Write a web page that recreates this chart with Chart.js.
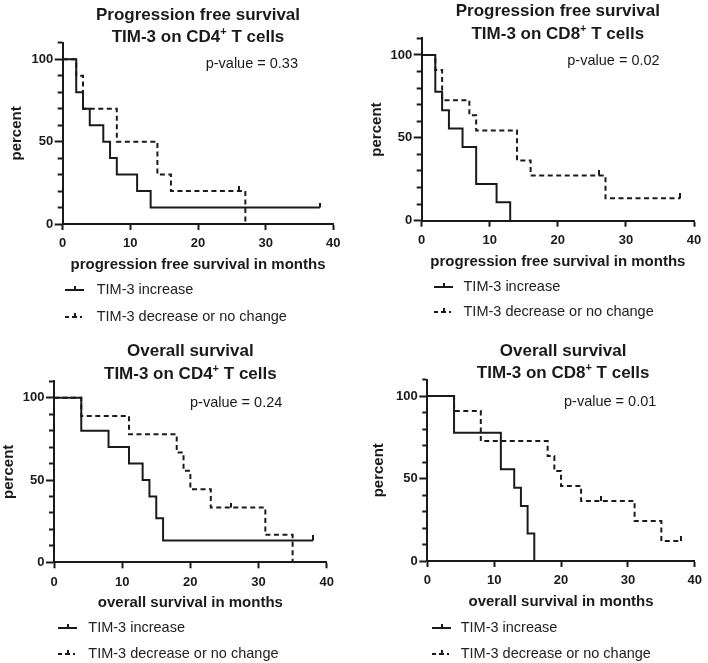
<!DOCTYPE html>
<html>
<head>
<meta charset="utf-8">
<script src="https://cdn.jsdelivr.net/npm/chart.js@4.4.1/dist/chart.umd.min.js"></script>
<style>
  html, body { margin: 0; padding: 0; background: #ffffff; }
  #page { position: relative; width: 708px; height: 663px; overflow: hidden; background: #fff;
          font-family: 'Liberation Sans', Arial, sans-serif; color: #1a1a1a; }
  canvas { position: absolute; }
  .title { position: absolute; text-align: center; font-weight: bold; font-size: 17px; line-height: 22.5px; white-space: nowrap; }
  .sup { font-size: 11px; position: relative; top: -7px; }
  .pval { position: absolute; font-size: 14.5px; line-height: 18px; white-space: nowrap; }
  .leg { position: absolute; font-size: 14.5px; line-height: 18px; white-space: nowrap; color: #222; }
  .sym { position: absolute; }
</style>
</head>
<body>
<div id="page"></div>
<script>
// ---------------- DATA ----------------
const seriesLabels = ['TIM-3 increase', 'TIM-3 decrease or no change'];
const titleLine1 = ['Progression free survival', 'Progression free survival', 'Overall survival', 'Overall survival'];
const titleCells = ['CD4', 'CD8', 'CD4', 'CD8'];
const pValues = ['0.33', '0.02', '0.24', '0.01'];
const xAxisTitles = ['progression free survival in months', 'progression free survival in months',
                     'overall survival in months', 'overall survival in months'];
const yAxisTitle = 'percent';
const yTickLabels = [0, 50, 100];
const xTickValues = [0, 10, 20, 30, 40];

// PFS, TIM-3 on CD4+ T cells
const pfsCd4IncMonths = [0, 2, 3, 4, 6, 7, 8, 11, 13, 38];
const pfsCd4IncPct    = [100, 80, 70, 60, 50, 40, 30, 20, 10, 10];
const pfsCd4DecMonths = [0, 2, 3, 8, 14, 16, 27];
const pfsCd4DecPct    = [100, 90, 70, 50, 30, 20, 0];
const pfsCd4IncCensMonths = [38];
const pfsCd4IncCensPct    = [10];
const pfsCd4DecCensMonths = [26];
const pfsCd4DecCensPct    = [20];

// PFS, TIM-3 on CD8+ T cells
const pfsCd8IncMonths = [0, 2, 3, 4, 6, 8, 11, 13];
const pfsCd8IncPct    = [100, 77.8, 66.7, 55.6, 44.4, 22.2, 11.1, 0];
const pfsCd8DecMonths = [0, 2, 3, 7, 8, 14, 16, 27, 38];
const pfsCd8DecPct    = [100, 90.9, 72.7, 63.6, 54.5, 36.4, 27.3, 13.6, 13.6];
const pfsCd8IncCensMonths = [];
const pfsCd8IncCensPct    = [];
const pfsCd8DecCensMonths = [26, 38];
const pfsCd8DecCensPct    = [27.3, 13.6];

// OS, TIM-3 on CD4+ T cells
const osCd4IncMonths = [0, 4, 8, 11, 13, 14, 15, 16, 38];
const osCd4IncPct    = [100, 80, 70, 60, 50, 40, 26.7, 13.3, 13.3];
const osCd4DecMonths = [0, 4, 11, 18, 19, 20, 23, 31, 35];
const osCd4DecPct    = [100, 88.9, 77.8, 66.7, 55.6, 44.4, 33.3, 16.7, 0];
const osCd4IncCensMonths = [38];
const osCd4IncCensPct    = [13.3];
const osCd4DecCensMonths = [26];
const osCd4DecCensPct    = [33.3];

// OS, TIM-3 on CD8+ T cells
const osCd8IncMonths = [0, 4, 11, 13, 14, 15, 16];
const osCd8IncPct    = [100, 77.8, 55.6, 44.4, 33.3, 16.7, 0];
const osCd8DecMonths = [0, 4, 8, 18, 19, 20, 23, 31, 35, 38];
const osCd8DecPct    = [100, 90.9, 72.7, 63.6, 54.5, 45.5, 36.4, 24.2, 12.1, 12.1];
const osCd8IncCensMonths = [];
const osCd8IncCensPct    = [];
const osCd8DecCensMonths = [26, 38];
const osCd8DecCensPct    = [36.4, 12.1];

// ---------------- LAYOUT (all page pixels) ----------------
const INK = '#1a1a1a';
const FONT = "'Liberation Sans', Arial, sans-serif";
Chart.defaults.font.family = FONT;
Chart.defaults.color = INK;

const panels = [
  { cx: 0,   cy: 0,   w: 354, h: 285, L: 62.7,  T: 42.8,  R: 333.3, B: 224,   yTitlePad: 7.5,
    t1: 21, pvL: 205.7, pvB: 68.3, legSym: 65,    legTxt: 96.7, legB: [294, 320.7],
    inc: [pfsCd4IncMonths, pfsCd4IncPct], dec: [pfsCd4DecMonths, pfsCd4DecPct],
    incC: [pfsCd4IncCensMonths, pfsCd4IncCensPct], decC: [pfsCd4DecCensMonths, pfsCd4DecCensPct] },
  { cx: 354, cy: 0,   w: 354, h: 285, L: 421.7, T: 38.4,  R: 694,   B: 220.7, yTitlePad: 13.5,
    t1: 17.3, pvL: 567.3, pvB: 65, legSym: 433.5, legTxt: 463.5, legB: [290.7, 316],
    inc: [pfsCd8IncMonths, pfsCd8IncPct], dec: [pfsCd8DecMonths, pfsCd8DecPct],
    incC: [pfsCd8IncCensMonths, pfsCd8IncCensPct], decC: [pfsCd8DecCensMonths, pfsCd8DecCensPct] },
  { cx: 0,   cy: 330, w: 354, h: 290, L: 54,    T: 381.3, R: 326.7, B: 562.3, yTitlePad: 0,
    t1: 357.3, pvL: 190, pvB: 406.7, legSym: 58.3, legTxt: 88.3, legB: [631.7, 658.3],
    inc: [osCd4IncMonths, osCd4IncPct], dec: [osCd4DecMonths, osCd4DecPct],
    incC: [osCd4IncCensMonths, osCd4IncCensPct], decC: [osCd4DecCensMonths, osCd4DecCensPct] },
  { cx: 354, cy: 330, w: 354, h: 290, L: 427.3, T: 379.5, R: 699,   B: 561,   yTitlePad: 16,
    t1: 356.7, pvL: 564, pvB: 406, legSym: 432.3, legTxt: 460.7, legB: [631.7, 658.3],
    inc: [osCd8IncMonths, osCd8IncPct], dec: [osCd8DecMonths, osCd8DecPct],
    incC: [osCd8IncCensMonths, osCd8IncCensPct], decC: [osCd8DecCensMonths, osCd8DecCensPct] }
];

// censor mark: short upward tick
const censorImg = document.createElement('canvas');
censorImg.width = 2; censorImg.height = 10;
(function () { const c = censorImg.getContext('2d'); c.fillStyle = INK; c.fillRect(0, 0, 2, 5); })();

function pts(xs, ys) { return xs.map((x, i) => ({ x: x, y: ys[i] })); }

const page = document.getElementById('page');

function addDiv(cls, left, top, html, width) {
  const d = document.createElement('div');
  d.className = cls;
  d.style.left = left + 'px';
  d.style.top = top + 'px';
  if (width !== undefined) d.style.width = width + 'px';
  d.innerHTML = html;
  page.appendChild(d);
  return d;
}

function legendSymbol(left, baseline, dashed) {
  const svgNS = 'http://www.w3.org/2000/svg';
  const svg = document.createElementNS(svgNS, 'svg');
  svg.setAttribute('width', 22); svg.setAttribute('height', 10);
  svg.setAttribute('class', 'sym');
  svg.style.left = left + 'px';
  svg.style.top = (baseline - 10) + 'px';
  const mk = (x1, y1, x2, y2) => {
    const l = document.createElementNS(svgNS, 'line');
    l.setAttribute('x1', x1); l.setAttribute('y1', y1); l.setAttribute('x2', x2); l.setAttribute('y2', y2);
    l.setAttribute('stroke', INK); l.setAttribute('stroke-width', 2);
    svg.appendChild(l);
  };
  if (!dashed) {
    mk(0, 7, 19, 7); mk(10, 3, 10, 7);
  } else {
    mk(0, 7, 4, 7); mk(7, 7, 12, 7); mk(10, 3, 10, 7); mk(15, 7, 17, 7);
  }
  page.appendChild(svg);
}

panels.forEach((p, i) => {
  const wrap = document.createElement('div');
  wrap.style.position = 'absolute';
  wrap.style.left = p.cx + 'px'; wrap.style.top = p.cy + 'px';
  wrap.style.width = p.w + 'px'; wrap.style.height = p.h + 'px';
  page.appendChild(wrap);
  const cv = document.createElement('canvas');
  cv.width = p.w; cv.height = p.h;
  cv.style.left = '0px'; cv.style.top = '0px';
  wrap.appendChild(cv);

  const left = p.L - p.cx;
  const right = p.R - p.cx;
  const top = p.T - p.cy;
  const bottom = p.B - p.cy;
  const xTitleCenter = bottom + 41;
  const xTitlePadBottom = p.h - xTitleCenter - 9;

  new Chart(cv, {
    type: 'line',
    data: {
      datasets: [
        { label: seriesLabels[0], data: pts(p.inc[0], p.inc[1]), stepped: 'before',
          borderColor: INK, borderWidth: 2, pointRadius: 0, fill: false, order: 1 },
        { label: seriesLabels[1], data: pts(p.dec[0], p.dec[1]), stepped: 'before',
          borderColor: INK, borderWidth: 2, borderDash: [5, 3.5], pointRadius: 0, fill: false, order: 2 },
        { label: 'censored', data: pts(p.incC[0], p.incC[1]), showLine: false,
          pointStyle: censorImg, pointRadius: 3, order: 0 },
        { label: 'censored', data: pts(p.decC[0], p.decC[1]), showLine: false,
          pointStyle: censorImg, pointRadius: 3, order: 0 }
      ]
    },
    options: {
      responsive: false, animation: false, devicePixelRatio: 1,
      layout: { padding: { left: 0, top: top, right: p.w - right, bottom: 0 } },
      plugins: { legend: { display: false }, tooltip: { enabled: false }, title: { display: false } },
      scales: {
        x: {
          type: 'linear', min: 0, max: 40,
          afterBuildTicks: s => { s.ticks = xTickValues.map(v => ({ value: v })); },
          ticks: { padding: 6, color: INK, font: { size: 13, weight: 'bold' }, maxRotation: 0 },
          grid: { drawOnChartArea: false, drawTicks: true, tickLength: 6, tickWidth: 2, tickColor: INK },
          border: { display: true, color: INK, width: 2 },
          title: { display: true, text: xAxisTitles[i], color: INK, font: { size: 15, weight: 'bold' },
                   padding: { top: 0, bottom: xTitlePadBottom } },
          afterFit: s => { s.height = p.h - bottom; }
        },
        y: {
          type: 'linear', min: 0, max: 110,
          ticks: { stepSize: 10, autoSkip: false, padding: 1.5, color: INK, font: { size: 13, weight: 'bold' },
                   callback: v => (yTickLabels.includes(v) ? String(v) : '') },
          grid: { drawOnChartArea: false, drawTicks: true, tickLength: 8, tickWidth: 2, tickColor: INK,
                  tickBorderDash: c => (c.tick && yTickLabels.includes(c.tick.value) ? [] : [0, 3, 10]) },
          border: { display: true, color: INK, width: 2 },
          title: { display: true, text: yAxisTitle, color: INK, font: { size: 15, weight: 'bold' },
                   padding: { top: p.yTitlePad, bottom: 0 } },
          afterFit: s => { s.width = left; }
        }
      }
    }
  });

  // Title (two lines), centred over the plot area
  addDiv('title', p.L, p.t1 - 17.1,
    titleLine1[i] + '<br>TIM-3 on ' + titleCells[i] + '<span class="sup">+</span> T cells', p.R - p.L);

  // p-value
  addDiv('pval', p.pvL, p.pvB - 14, 'p-value = ' + pValues[i]);

  // Legend
  seriesLabels.forEach((lab, k) => {
    legendSymbol(p.legSym, p.legB[k] - 1, k === 1);
    addDiv('leg', p.legTxt, p.legB[k] - 14, lab);
  });
});
</script>
</body>
</html>
